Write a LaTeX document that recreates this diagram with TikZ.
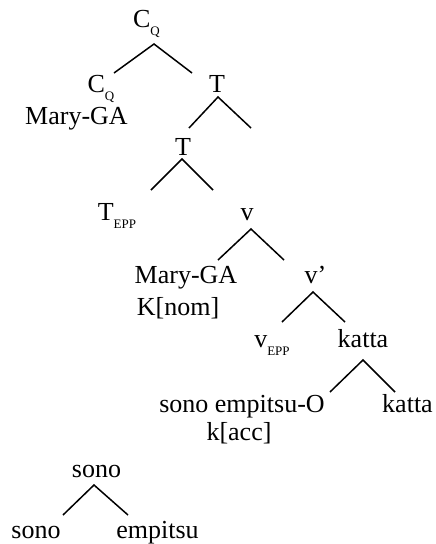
\documentclass[tikz,border=0pt]{standalone}
\usepackage{fontspec}
\setmainfont{Liberation Serif}
\newcommand{\sbs}[1]{\raisebox{-8pt}{\fontsize{13}{13}\selectfont #1}}
\begin{document}
\begin{tikzpicture}[x=1pt,y=-1pt,
  lab/.style={anchor=base,inner sep=0pt,font=\fontsize{26}{30}\selectfont},
  br/.style={line width=1.5pt}]
\useasboundingbox (0,0) rectangle (436,544);
% labels
\node[lab] (cq) at (146.5,27) {C\sbs{Q}};
\node[lab] (cq2) at (101,92) {C\sbs{Q}};
\node[lab] (mary1) at (76.5,124) {Mary-GA};
\node[lab] (t1) at (217,92) {T};
\node[lab] (t2) at (183,155) {T};
\node[lab] (tepp) at (117,220) {T\sbs{EPP}};
\node[lab] (v) at (247,220) {v};
\node[lab] (mary2) at (186,283) {Mary-GA};
\node[lab] (knom) at (178,315) {K[nom]};
\node[lab] (vp) at (315.5,283) {v’};
\node[lab] (vepp) at (272,347) {v\sbs{EPP}};
\node[lab] (katta1) at (363,347) {katta};
\node[lab] (sonoemp) at (242,412) {sono empitsu-O};
\node[lab] (katta2) at (407.5,412) {katta};
\node[lab] (kacc) at (239,440) {k[acc]};
\node[lab] (sono1) at (96.5,477) {sono};
\node[lab] (sono2) at (36,538) {sono};
\node[lab] (empitsu) at (157.5,538) {empitsu};
% branch points
\coordinate (a1) at (154,44); \coordinate (l1) at (114,73); \coordinate (r1) at (192,73);
\coordinate (a2) at (218,97); \coordinate (l2) at (189,128); \coordinate (r2) at (251,128);
\coordinate (a3) at (182,159); \coordinate (l3) at (151,190); \coordinate (r3) at (213,190);
\coordinate (a4) at (251,229); \coordinate (l4) at (218,260); \coordinate (r4) at (284,260);
\coordinate (a5) at (313,292); \coordinate (l5) at (282,322); \coordinate (r5) at (345,322);
\coordinate (a6) at (363,360); \coordinate (l6) at (330,392); \coordinate (r6) at (395,392);
\coordinate (a7) at (94,485); \coordinate (l7) at (63,515); \coordinate (r7) at (128,515);
\foreach \i in {1,...,7}{\draw[br] (l\i) -- (a\i) -- (r\i);}
\end{tikzpicture}
\end{document}
